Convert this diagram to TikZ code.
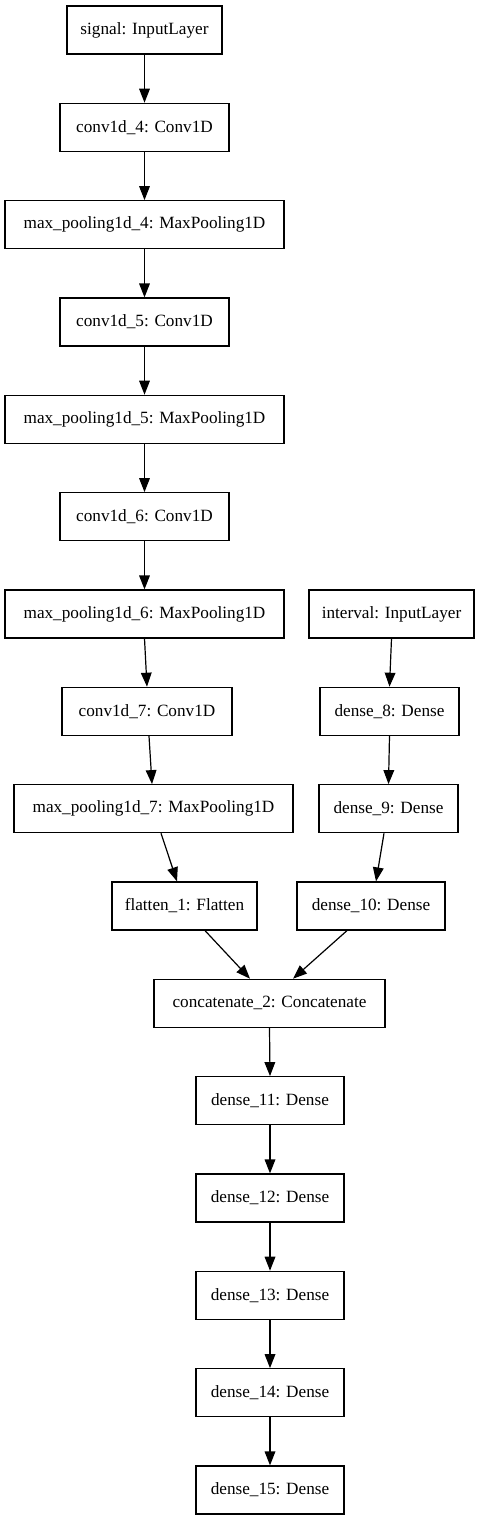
\documentclass[tikz,border=0pt]{standalone}
\usepackage{fontspec}
\setmainfont{Liberation Serif}
\usetikzlibrary{arrows.meta,calc}
\begin{document}
\begin{tikzpicture}[x=0.75pt,y=-0.75pt,
  box/.style={draw,line width=0.9pt,minimum height=36pt,inner sep=0pt,font=\fontsize{12.9}{15}\selectfont,anchor=center},
  edge/.style={line width=0.9pt,-{Triangle[length=10.5pt,width=8pt]}}]
\fill[white] (0,0) rectangle (479,1520);
\useasboundingbox (0,0) rectangle (479,1520);
\node[box,minimum width=116.25pt] (signal) at (144.5,30) {signal: InputLayer};
\node[box,minimum width=126.75pt] (c4) at (144.5,127.3) {conv1d\_4: Conv1D};
\node[box,minimum width=209.25pt] (m4) at (144.5,224.7) {max\_pooling1d\_4: MaxPooling1D};
\node[box,minimum width=126.75pt] (c5) at (144.5,322) {conv1d\_5: Conv1D};
\node[box,minimum width=209.25pt] (m5) at (144.5,419.3) {max\_pooling1d\_5: MaxPooling1D};
\node[box,minimum width=126.75pt] (c6) at (144.5,516.7) {conv1d\_6: Conv1D};
\node[box,minimum width=209.25pt] (m6) at (144.5,614) {max\_pooling1d\_6: MaxPooling1D};
\node[box,minimum width=123.75pt] (interval) at (391.5,614) {interval: InputLayer};
\node[box,minimum width=127.5pt] (c7) at (147,711.3) {conv1d\_7: Conv1D};
\node[box,minimum width=104.25pt] (d8) at (389.5,711.3) {dense\_8: Dense};
\node[box,minimum width=209.25pt] (m7) at (153.5,808.7) {max\_pooling1d\_7: MaxPooling1D};
\node[box,minimum width=104.25pt] (d9) at (388.5,808.7) {dense\_9: Dense};
\node[box,minimum width=108.75pt] (flat) at (184.5,906) {flatten\_1: Flatten};
\node[box,minimum width=111pt] (d10) at (371,906) {dense\_10: Dense};
\node[box,minimum width=173.25pt] (cat) at (269.5,1003.3) {concatenate\_2: Concatenate};
\node[box,minimum width=111pt] (d11) at (270,1100.7) {dense\_11: Dense};
\node[box,minimum width=111pt] (d12) at (270,1198) {dense\_12: Dense};
\node[box,minimum width=111pt] (d13) at (270,1295.3) {dense\_13: Dense};
\node[box,minimum width=111pt] (d14) at (270,1392.7) {dense\_14: Dense};
\node[box,minimum width=111pt] (d15) at (270,1490) {dense\_15: Dense};
\draw[edge] (signal.south) -- (c4.north);
\draw[edge] (c4.south) -- (m4.north);
\draw[edge] (m4.south) -- (c5.north);
\draw[edge] (c5.south) -- (m5.north);
\draw[edge] (m5.south) -- (c6.north);
\draw[edge] (c6.south) -- (m6.north);
\draw[edge] (m6.south) -- (c7.north);
\draw[edge] ($(c7.south)+(2,0)$) -- ($(m7.north)+(-1.5,0)$);
\draw[edge] ($(m7.south)+(7.5,0)$) -- ($(flat.north)+(-7.5,0)$);
\draw[edge] (interval.south) -- (d8.north);
\draw[edge] (d8.south) -- (d9.north);
\draw[edge] ($(d9.south)+(-4.5,0)$) -- ($(d10.north)+(5,0)$);
\draw[edge] ($(flat.south)+(20.5,0)$) -- ($(cat.north)+(-19.5,0)$);
\draw[edge] ($(d10.south)+(-24,0)$) -- ($(cat.north)+(23.5,0)$);
\draw[edge] (cat.south) -- (d11.north);
\draw[edge] (d11.south) -- (d12.north);
\draw[edge] (d12.south) -- (d13.north);
\draw[edge] (d13.south) -- (d14.north);
\draw[edge] (d14.south) -- (d15.north);
\end{tikzpicture}
\end{document}
